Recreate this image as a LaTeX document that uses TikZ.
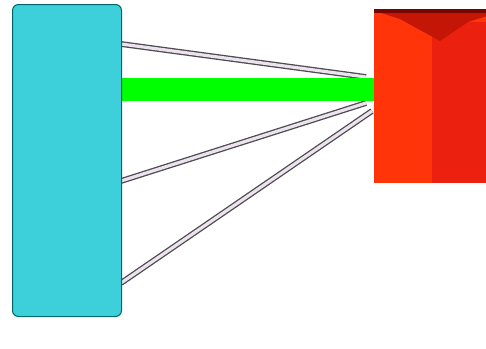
\documentclass[tikz,border=0pt]{standalone}
\definecolor{cyanbox}{RGB}{62,208,218}
\definecolor{redbox}{RGB}{255,52,8}
\definecolor{redside}{RGB}{236,32,14}
\definecolor{redtop}{RGB}{196,22,6}
\definecolor{redband}{RGB}{120,4,0}
\definecolor{cablein}{RGB}{236,226,240}
\begin{document}
\begin{tikzpicture}[x=1pt,y=1pt,
  cable/.style={draw=black!70,line width=1.3pt,double=cablein,double distance=3.2pt},
  thick bar/.style={draw=green,line width=23pt},
  leftbox/.style={draw=teal!80!black,line width=1pt,fill=cyanbox,rounded corners=6pt,inner sep=0pt,minimum width=109pt,minimum height=312pt},
  rightbox/.style={fill=redbox,inner sep=0pt,minimum width=113pt,minimum height=174pt}]
\useasboundingbox (0,0) rectangle (486,-348);
\coordinate (a1) at (121,-44);
\coordinate (a2) at (121,-181);
\coordinate (a3) at (121,-283);
\coordinate (b1) at (366,-77);
\coordinate (b2) at (366,-103);
\coordinate (b3) at (372,-111);
\draw[cable] (a1) -- (b1);
\draw[cable] (a2) -- (b2);
\draw[cable] (a3) -- (b3);
\coordinate (g1) at (121,-89.5);
\coordinate (g2) at (375,-89.5);
\draw[thick bar] (g1) -- (g2);
\node[leftbox,anchor=north west] (A) at (12,-4) {};
\node[rightbox,anchor=north west] (B) at (374,-9) {};
\fill[redside] (432,-22) rectangle (487,-183);
\fill[redtop] (378,-12) -- (487,-12) -- (487,-16) -- (468,-22) -- (440,-41) -- (400,-19) -- cycle;
\fill[redband] (374,-9) rectangle (487,-13);
\end{tikzpicture}
\end{document}
